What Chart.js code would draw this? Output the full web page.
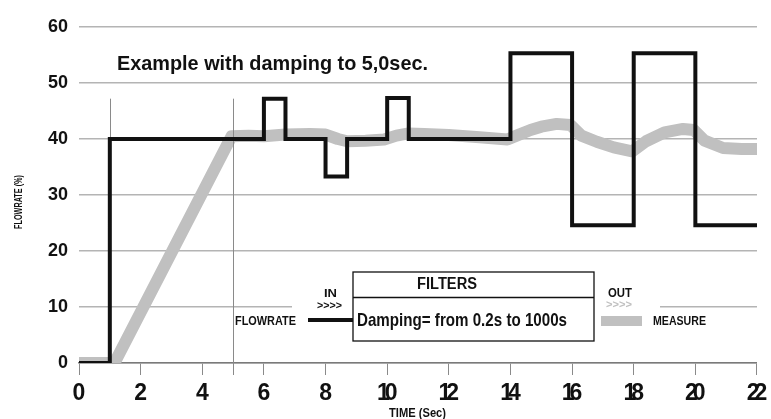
<!DOCTYPE html>
<html>
<head>
<meta charset="utf-8">
<script src="https://cdn.jsdelivr.net/npm/chart.js@4.4.1/dist/chart.umd.min.js"></script>
<style>
  html, body { margin: 0; padding: 0; background: #fff; }
  #wrap { width: 771px; height: 419px; }
</style>
</head>
<body>
<div id="wrap"><canvas id="flowChart" width="771" height="419"></canvas></div>
<script>
const ctx = document.getElementById("flowChart");

// input signal (value holds until the next time)
const inTimes = [0, 1, 6, 6.7, 8, 8.7, 10, 10.7, 14, 16, 18, 20, 22];
const inFlow  = [0, 40, 47.2, 40, 33.3, 40, 47.3, 40, 55.3, 24.6, 55.3, 24.6, 24.6];

// damped measure
const outTimes = [0, 1.15, 4.95, 5.5, 6, 6.7, 7.5, 8, 8.4, 8.7, 9.3, 9.9, 10.3, 10.7, 11.2, 12, 13, 13.9, 14.2, 14.65, 15, 15.5, 15.95, 16.3, 16.8, 17.35, 17.95, 18.4, 19, 19.6, 19.95, 20.3, 20.9, 21.5, 22];
const outFlow  = [0, 0, 40.5, 40.6, 40.5, 40.8, 40.9, 40.8, 40.0, 39.6, 39.7, 39.9, 40.6, 41.0, 40.9, 40.7, 40.3, 39.9, 40.6, 41.6, 42.2, 42.7, 42.5, 40.6, 39.5, 38.5, 37.8, 39.6, 41.2, 41.8, 41.6, 39.7, 38.4, 38.2, 38.2];

const xTicks = [0, 2, 4, 6, 8, 10, 12, 14, 16, 18, 20, 22];
const yTicks = [0, 10, 20, 30, 40, 50, 60];
const markTimes = [1, 5];

const titleText = "Example with damping to 5,0sec.";
const yTitle = "FLOWRATE (%)";
const xTitle = "TIME (Sec)";

const SANS = "'Liberation Sans', Arial, sans-serif";

// draw bold text squeezed to a given width, x = left edge
function fitText(c, text, x, y, width, size) {
  c.font = "bold " + size + "px " + SANS;
  const w = c.measureText(text).width;
  c.save();
  c.translate(x, y);
  c.scale(width / w, 1);
  c.textAlign = "left";
  c.fillText(text, 0, 0);
  c.restore();
}

const decorPlugin = {
  id: "decor",
  beforeDatasetDraw(chart, args) {
    if (args.index !== 0) return;
    const c = chart.ctx;
    const xs = chart.scales.x, ys = chart.scales.y;
    c.save();
    c.strokeStyle = "#8a8a8a";
    c.lineWidth = 1;
    markTimes.forEach((t, i) => {
      const px = Math.round(xs.getPixelForValue(t)) + 0.5;
      c.beginPath();
      c.moveTo(px, ys.getPixelForValue(47.2));
      c.lineTo(px, ys.getPixelForValue(0) + (i ? 12 : 0));
      c.stroke();
    });
    c.restore();
  },
  afterDatasetsDraw(chart) {
    const c = chart.ctx;
    const xs = chart.scales.x;
    c.save();
    // white legend backing
    c.fillStyle = "#fff";
    c.fillRect(292, 268, 368, 78);
    c.strokeStyle = "#8a8a8a";
    c.lineWidth = 1;
    const px5 = Math.round(xs.getPixelForValue(markTimes[1])) + 0.5;
    c.beginPath();
    c.moveTo(px5, 268); c.lineTo(px5, 346);
    c.stroke();

    c.fillStyle = "#111";
    c.textBaseline = "alphabetic";
    fitText(c, titleText, 117, 70, 311, 21);

    // filters box
    c.strokeStyle = "#111";
    c.lineWidth = 1.3;
    c.strokeRect(353, 272, 241, 69);
    c.beginPath();
    c.moveTo(353, 297.5); c.lineTo(594, 297.5);
    c.stroke();
    fitText(c, "FILTERS", 417, 289, 60, 16);
    fitText(c, "Damping= from 0.2s to 1000s", 357, 325.5, 210, 18.5);

    // input legend
    fitText(c, "FLOWRATE", 235, 325, 61, 13);
    c.lineWidth = 4;
    c.beginPath();
    c.moveTo(308, 320); c.lineTo(353, 320);
    c.stroke();
    fitText(c, "IN", 324, 297, 13, 11);
    c.textBaseline = "middle";
    fitText(c, ">>>>", 317, 306, 25, 10);

    // output legend
    c.textBaseline = "alphabetic";
    fitText(c, "OUT", 608, 297, 24, 12);
    c.fillStyle = "#c0c0c0";
    c.textBaseline = "middle";
    fitText(c, ">>>>", 606, 305, 26, 10);
    c.fillRect(601, 316, 41, 10);
    c.fillStyle = "#111";
    c.textBaseline = "alphabetic";
    fitText(c, "MEASURE", 653, 325, 53, 13);

    // axis titles
    fitText(c, xTitle, 389, 417, 57, 13);
    c.save();
    c.translate(22, 229);
    c.rotate(-Math.PI / 2);
    fitText(c, yTitle, 0, 0, 54, 11);
    c.restore();

    // x tick labels, tight spacing
    c.font = "bold 23px " + SANS;
    c.textAlign = "center";
    c.letterSpacing = "-5px";
    xs.ticks.forEach(t => {
      c.fillText(String(t.value), xs.getPixelForValue(t.value) - 2.5, 400);
    });
    c.restore();
  }
};

new Chart(ctx, {
  type: "line",
  data: {
    datasets: [
      {
        label: "FLOWRATE",
        data: inTimes.map((t, i) => ({ x: t, y: inFlow[i] })),
        borderColor: "#111",
        borderWidth: 4,
        stepped: "before",
        pointRadius: 0,
        fill: false,
        order: 1
      },
      {
        label: "MEASURE",
        data: outTimes.map((t, i) => ({ x: t, y: outFlow[i] })),
        borderColor: "#c0c0c0",
        borderWidth: 12,
        tension: 0,
        borderJoinStyle: "round",
        pointRadius: 0,
        fill: false,
        order: 2
      }
    ]
  },
  options: {
    responsive: false,
    animation: false,
    layout: { padding: { top: 27, right: 12, left: 0, bottom: 0 } },
    plugins: {
      legend: { display: false },
      tooltip: { enabled: false }
    },
    scales: {
      x: {
        type: "linear",
        min: 0,
        max: 22,
        afterBuildTicks: s => { s.ticks = xTicks.map(v => ({ value: v })); },
        afterFit: s => { s.height = 56; },
        grid: { drawOnChartArea: false, drawTicks: true, tickLength: 12, tickColor: "#8a8a8a" },
        border: { display: true, color: "#7a7a7a", width: 1.5 },
        ticks: { color: "rgba(0,0,0,0)", padding: 4, maxRotation: 0, font: { family: SANS, size: 18, weight: "bold" } }
      },
      y: {
        min: 0,
        max: 60,
        afterBuildTicks: s => { s.ticks = yTicks.map(v => ({ value: v })); },
        afterFit: s => { s.width = 79; },
        grid: { color: "#b4b4b4", lineWidth: 1.5, drawTicks: false },
        border: { display: false },
        ticks: { color: "#111", padding: 11, font: { family: SANS, size: 18, weight: "bold" } }
      }
    }
  },
  plugins: [decorPlugin]
});
</script>
</body>
</html>
